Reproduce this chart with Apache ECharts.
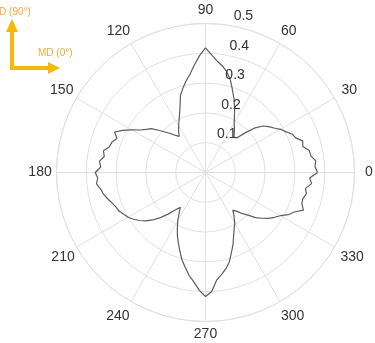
<!DOCTYPE html>
<html>
<head>
<meta charset="utf-8">
<style>
html,body{margin:0;padding:0;background:#fff;}
#chart{width:375px;height:343px;}
</style>
<script src="https://cdn.jsdelivr.net/npm/echarts@6/dist/echarts.min.js"></script>
</head>
<body>
<div id="chart"></div>
<script>
// Angle positions (degrees) of the measured curve
const angles = [0,3,6,9,12,15,18,21,24,27,30,33,36,39,42,45,48,51,54,57,60,63,66,69,72,75,78,81,84,87,
  90,93,96,99,102,105,108,111,114,117,120,123,126,129,132,135,138,141,144,147,150,153,156,159,162,165,168,171,174,177,
  180,183,186,189,192,195,198,201,204,207,210,213,216,219,222,225,228,231,234,237,240,243,246,249,252,255,258,261,264,267,
  270,273,276,279,282,285,288,291,294,297,300,303,306,309,312,315,318,321,324,327,330,333,336,339,342,345,348,351,354,357,360];
// Radius values
const radii = [0.376,0.368,0.372,0.358,0.356,0.338,0.343,0.324,0.318,0.302,0.290,0.274,0.262,0.248,0.224,0.188,0.156,0.152,0.165,0.178,
  0.193,0.214,0.240,0.266,0.292,0.322,0.345,0.362,0.376,0.395,
  0.418,0.392,0.362,0.334,0.314,0.293,0.272,0.238,0.214,0.196,0.180,0.166,0.150,0.160,0.176,0.192,0.212,0.234,0.246,0.262,
  0.286,0.312,0.334,0.318,0.330,0.334,0.350,0.344,0.358,0.352,
  0.370,0.362,0.368,0.356,0.350,0.340,0.330,0.322,0.318,0.308,0.300,0.288,0.274,0.258,0.238,0.214,0.188,0.162,0.144,0.162,
  0.186,0.208,0.232,0.254,0.278,0.304,0.326,0.350,0.370,0.396,
  0.416,0.400,0.362,0.346,0.330,0.310,0.282,0.258,0.232,0.212,0.196,0.176,0.156,0.168,0.186,0.202,0.226,0.244,0.262,0.276,
  0.290,0.312,0.326,0.352,0.340,0.338,0.346,0.340,0.358,0.350,0.376];
const angleTicks = [0,30,60,90,120,150,180,210,240,270,300,330];
const radiusTicks = [0.1,0.2,0.3,0.4,0.5];

const chart = echarts.init(document.getElementById('chart'));
const gridColor = '#e0e0e0';
const textColor = '#333';
const font = 'Liberation Sans, Arial, sans-serif';
const C = [205.5, 172.5];
const R = 149;
const orange = '#F5B70A';

// per-label text padding [top, right, bottom, left] so labels sit centred on a ring
const labelPad = {
  0: [0, 0, 0, 8.6], 30: [0, 0, 0, 5.2], 60: [0, 0, 4, 0], 90: [0, 0, 4.5, 0],
  120: [0, 0, 4, 0], 150: [0, 1.3, 0, 0], 180: [0, 2.8, 0, 0], 210: [1.7, 0, 0, 0],
  240: [5.7, 0.5, 0, 0], 270: [3.8, 0, 0, 0], 300: [5.7, 0, 0, 0], 330: [1.7, 0, 0, 4.2]
};
const rich = {};
angleTicks.forEach(a => {
  rich['p' + a] = {padding: labelPad[a], fontSize: 14, color: textColor, fontFamily: font};
});

chart.setOption({
  animation: false,
  polar: [
    {center: C, radius: R},
    {center: C, radius: R}
  ],
  angleAxis: [
    {
      polarIndex: 0, type: 'value', min: 0, max: 360, interval: 30,
      startAngle: 0, clockwise: false,
      axisLine: {show: true, lineStyle: {color: gridColor, width: 1}},
      axisTick: {show: false},
      splitLine: {show: true, lineStyle: {color: gridColor, width: 1}},
      axisLabel: {
        margin: 2, color: textColor, fontSize: 14, fontFamily: font,
        formatter: v => (angleTicks.indexOf(v) >= 0 ? '{p' + v + '|' + v + '}' : ''),
        rich: rich
      }
    },
    {
      polarIndex: 1, type: 'value', min: 0, max: 360, startAngle: 82, clockwise: false,
      axisLine: {show: false}, axisTick: {show: false}, splitLine: {show: false}, axisLabel: {show: false}
    }
  ],
  radiusAxis: [
    {
      polarIndex: 0, type: 'value', min: 0, max: 0.5, interval: 0.1,
      axisLine: {show: false}, axisTick: {show: false}, axisLabel: {show: false},
      splitLine: {show: true, lineStyle: {color: gridColor, width: 1}}
    },
    {
      polarIndex: 1, type: 'value', min: 0, max: 0.5, interval: 0.1,
      axisLine: {show: false}, axisTick: {show: false}, splitLine: {show: false},
      axisLabel: {
        show: true, color: textColor, fontSize: 14, fontFamily: font, margin: -7.5,
        align: 'left', verticalAlign: 'bottom', padding: [0, 0, 2.5, 0],
        formatter: v => (radiusTicks.some(t => Math.abs(t - v) < 1e-9) ? v.toFixed(1) : '')
      },
      z: 5
    }
  ],
  series: [{
    type: 'line', coordinateSystem: 'polar', polarIndex: 0,
    data: radii.map((r, i) => [r, angles[i]]),
    showSymbol: false, symbol: 'none',
    lineStyle: {color: '#5c5c5c', width: 1.2},
    z: 3
  }],
  graphic: [
    {type: 'line', shape: {x1: 12, y1: 70, x2: 12, y2: 31}, style: {stroke: orange, lineWidth: 4}},
    {type: 'polygon', shape: {points: [[6, 32], [18, 32], [12, 19]]}, style: {fill: orange}},
    {type: 'line', shape: {x1: 10, y1: 68, x2: 49, y2: 68}, style: {stroke: orange, lineWidth: 4}},
    {type: 'polygon', shape: {points: [[48, 62], [48, 74], [60, 68]]}, style: {fill: orange}},
    {type: 'text', style: {x: -7, y: 12, text: 'TD (90°)', fill: '#F2A93B', font: '10px Liberation Sans, Arial, sans-serif', verticalAlign: 'middle'}},
    {type: 'text', style: {x: 38, y: 53, text: 'MD (0°)', fill: '#F2A93B', font: '10px Liberation Sans, Arial, sans-serif', verticalAlign: 'middle'}}
  ]
});
</script>
</body>
</html>
